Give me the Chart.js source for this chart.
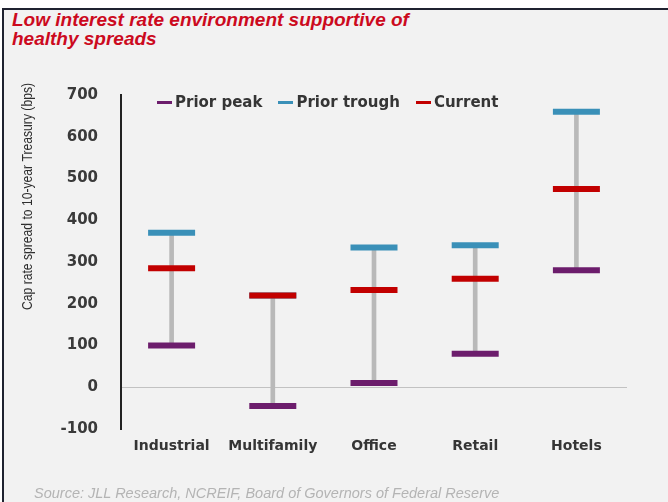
<!DOCTYPE html>
<html>
<head>
<meta charset="utf-8">
<script src="https://cdn.jsdelivr.net/npm/chart.js@4.4.1/dist/chart.umd.min.js"></script>
<style>
  body { margin: 0; background: #ffffff; }
  #wrap { position: relative; width: 668px; height: 502px; overflow: hidden; }
  #frame {
    position: absolute; left: 2px; top: 8px; width: 664px; height: 494px;
    background: #f2f2f2; border-top: 2px solid #1f2230; border-left: 2px solid #1f2230;
  }
  #title {
    position: absolute; left: 12px; top: 10px;
    font: italic bold 19px/19px "Liberation Sans", Arial, sans-serif; color: #cc0a1e;
  }
  #legend {
    position: absolute; left: 157px; top: 93px; height: 18px;
    display: flex; gap: 16px; align-items: center;
    font: bold 15px/18px "DejaVu Sans", sans-serif; color: #353535;
  }
  #legend .item { display: flex; align-items: center; }
  #legend .mark { width: 15px; height: 3px; margin-right: 3px; }
  #source {
    position: absolute; left: 34px; top: 485px;
    font: italic 14.5px/16px "Liberation Sans", Arial, sans-serif; color: #b4b4b4;
  }
  canvas { position: absolute; left: 0; top: 0; }
</style>
</head>
<body>
<div id="wrap">
  <div id="frame"></div>
  <div id="title">Low interest rate environment supportive of<br>healthy spreads</div>
  <canvas id="chart" width="668" height="502"></canvas>
  <div id="legend"></div>
  <div id="source">Source: JLL Research, NCREIF, Board of Governors of Federal Reserve</div>
</div>
<script>
  const categories = ['Industrial', 'Multifamily', 'Office', 'Retail', 'Hotels'];
  const priorPeak = [100, -45, 10, 80, 280];
  const priorTrough = [370, 220, 335, 340, 660];
  const current = [285, 220, 233, 260, 475];
  const yTicks = [-100, 0, 100, 200, 300, 400, 500, 600, 700];

  const seriesNames = ['Prior peak', 'Prior trough', 'Current'];
  const seriesColors = ['#6c1d6c', '#3a90b8', '#c20000'];
  const yTitle = 'Cap rate spread to 10-year Treasury (bps)';

  // legend (html, inside plot top)
  const legend = document.getElementById('legend');
  seriesNames.forEach((name, i) => {
    const item = document.createElement('div');
    item.className = 'item';
    const mark = document.createElement('span');
    mark.className = 'mark';
    mark.style.background = seriesColors[i];
    const txt = document.createElement('span');
    txt.textContent = name;
    item.appendChild(mark);
    item.appendChild(txt);
    legend.appendChild(item);
  });

  const ranges = categories.map((c, i) => {
    const vals = [priorPeak[i], priorTrough[i], current[i]];
    return [Math.min(...vals), Math.max(...vals)];
  });

  const markerDefaults = {
    type: 'line',
    showLine: false,
    pointStyle: 'line',
    pointRadius: 23.5,
    pointHoverRadius: 23.5,
    pointBorderWidth: 6,
    pointHoverBorderWidth: 6
  };

  // rotated y-axis title, drawn top aligned like the original
  const yTitlePlugin = {
    id: 'yTitle',
    afterDraw(chart) {
      const ctx = chart.ctx;
      ctx.save();
      ctx.font = '15px "Liberation Sans Narrow", "Liberation Sans", sans-serif';
      ctx.fillStyle = '#2e2e2e';
      ctx.textAlign = 'left';
      ctx.textBaseline = 'middle';
      const w = ctx.measureText(yTitle).width;
      ctx.translate(28, 310);
      ctx.rotate(-Math.PI / 2);
      ctx.scale(227 / w, 1);
      ctx.fillText(yTitle, 0, 0);
      ctx.restore();
    }
  };

  new Chart(document.getElementById('chart'), {
    type: 'bar',
    data: {
      labels: categories,
      datasets: [
        {
          type: 'bar',
          label: 'range',
          data: ranges,
          backgroundColor: '#b9b9b9',
          barThickness: 4,
          borderSkipped: false,
          order: 3
        },
        { ...markerDefaults, label: seriesNames[0], data: priorPeak, borderColor: seriesColors[0], backgroundColor: seriesColors[0], order: 2 },
        { ...markerDefaults, label: seriesNames[1], data: priorTrough, borderColor: seriesColors[1], backgroundColor: seriesColors[1], order: 1 },
        { ...markerDefaults, label: seriesNames[2], data: current, borderColor: seriesColors[2], backgroundColor: seriesColors[2], order: 0 }
      ]
    },
    options: {
      responsive: false,
      animation: false,
      layout: { padding: { top: 95, right: 41, bottom: 0, left: 0 } },
      plugins: {
        legend: { display: false },
        tooltip: { enabled: false }
      },
      scales: {
        x: {
          offset: true,
          grid: { display: false, drawTicks: false },
          border: { display: false },
          ticks: {
            padding: 9,
            color: '#353535',
            font: { family: 'DejaVu Sans', size: 14, weight: 'bold' }
          },
          afterFit: s => { s.height = 73; }
        },
        y: {
          min: yTicks[0],
          max: yTicks[yTicks.length - 1],
          afterBuildTicks: s => { s.ticks = yTicks.map(v => ({ value: v })); },
          grid: {
            drawTicks: false,
            color: c => (c.tick && c.tick.value === 0 ? '#c2c2c2' : 'rgba(0,0,0,0)'),
            lineWidth: 1
          },
          border: { display: true, color: '#222222', width: 2 },
          ticks: {
            padding: 23,
            color: '#3a3a3a',
            font: { family: 'DejaVu Sans', size: 15, weight: 'bold' }
          },
          afterFit: s => { s.width = 121; }
        }
      }
    },
    plugins: [yTitlePlugin]
  });
</script>
</body>
</html>
